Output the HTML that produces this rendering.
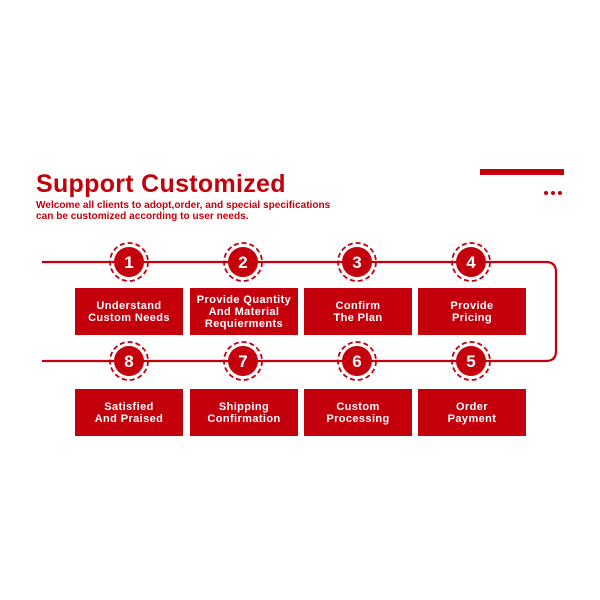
<!DOCTYPE html>
<html><head><style>
body{margin:0;width:600px;height:600px;background:#fff;position:relative;overflow:hidden;font-family:"Liberation Sans",sans-serif}
.t{position:absolute;left:36px;top:169px;color:#c3000c;font-weight:bold;font-size:25px;line-height:31px;letter-spacing:0.3px}
.s{position:absolute;left:36px;top:201px;color:#c3000c;font-weight:bold;font-size:10.1px;line-height:10.5px}
.b{position:absolute;width:108px;height:47px;background:#c3000c;color:#fff;font-weight:bold;font-size:11px;line-height:12px;display:flex;align-items:center;justify-content:center;text-align:center;letter-spacing:0.4px}
</style></head><body>
<div class="t">Support Customized</div>
<div class="s">Welcome all clients to adopt,order, and special specifications<br>can be customized according to user needs.</div>
<div style="position:absolute;left:480px;top:169px;width:84px;height:6px;background:#c3000c"></div>
<svg width="600" height="600" style="position:absolute;left:0;top:0">
<g fill="#c3000c"><circle cx="546" cy="193" r="2"/><circle cx="553" cy="193" r="2"/><circle cx="560" cy="193" r="2"/></g>
<path d="M42 262 H546 Q556 262 556 272 V351 Q556 361 546 361 H42" fill="none" stroke="#c3000c" stroke-width="2.2"/>
<g stroke="#c3000c" stroke-width="1.8" fill="none" stroke-dasharray="5 3">
<circle cx="129" cy="262" r="19"/><circle cx="243" cy="262" r="19"/><circle cx="357" cy="262" r="19"/><circle cx="471" cy="262" r="19"/>
<circle cx="129" cy="361" r="19"/><circle cx="243" cy="361" r="19"/><circle cx="357" cy="361" r="19"/><circle cx="471" cy="361" r="19"/>
</g>
<g fill="#c3000c">
<circle cx="129" cy="262" r="15"/><circle cx="243" cy="262" r="15"/><circle cx="357" cy="262" r="15"/><circle cx="471" cy="262" r="15"/>
<circle cx="129" cy="361" r="15"/><circle cx="243" cy="361" r="15"/><circle cx="357" cy="361" r="15"/><circle cx="471" cy="361" r="15"/>
</g>
<g fill="#fff" font-family="Liberation Sans" font-weight="bold" font-size="17" text-anchor="middle">
<text x="129" y="268">1</text><text x="243" y="268">2</text><text x="357" y="268">3</text><text x="471" y="268">4</text>
<text x="129" y="367">8</text><text x="243" y="367">7</text><text x="357" y="367">6</text><text x="471" y="367">5</text>
</g>
</svg>
<div class="b" style="left:75px;top:288px">Understand<br>Custom Needs</div>
<div class="b" style="left:190px;top:288px">Provide Quantity<br>And Material<br>Requierments</div>
<div class="b" style="left:304px;top:288px">Confirm<br>The Plan</div>
<div class="b" style="left:418px;top:288px">Provide<br>Pricing</div>
<div class="b" style="left:75px;top:389px">Satisfied<br>And Praised</div>
<div class="b" style="left:190px;top:389px">Shipping<br>Confirmation</div>
<div class="b" style="left:304px;top:389px">Custom<br>Processing</div>
<div class="b" style="left:418px;top:389px">Order<br>Payment</div>
</body></html>
